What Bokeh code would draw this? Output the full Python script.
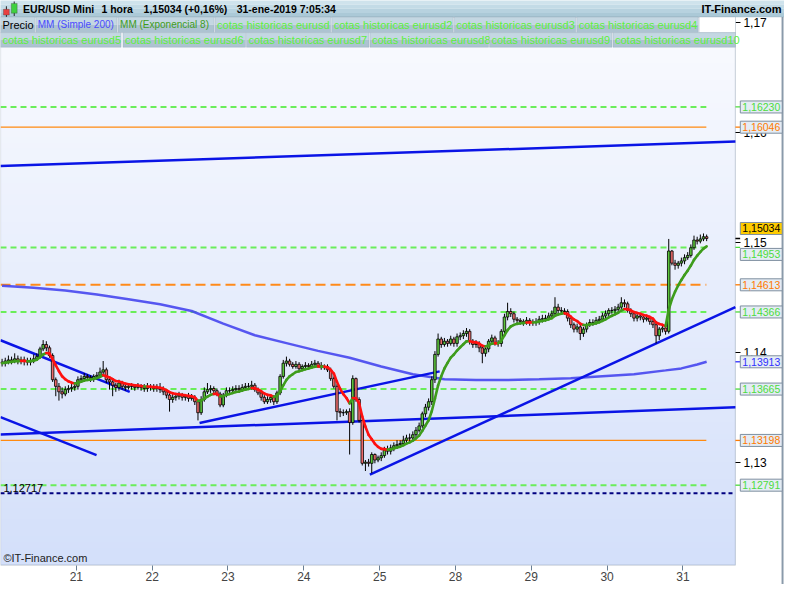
import numpy as np
from bokeh.plotting import figure
from bokeh.models import Range1d, FixedTicker, CustomJSTickFormatter, Label, BoxAnnotation
from bokeh.embed import file_html
from bokeh.resources import INLINE

# ---------------- data ----------------
first_open = 1.1391
closes = [
 1.1390,1.1392,1.1393,1.1392,1.1394,1.1392,1.1393,1.1392,1.1391,1.1392,1.1394,1.1396,1.1403,1.1407,1.1404,1.1397,1.1375,1.1369,1.1364,1.1362,1.1366,1.1367,1.1368,1.1369,
 1.1375,1.1376,1.1378,1.1377,1.1376,1.1378,1.1379,1.1382,1.1384,1.1375,1.1373,1.1370,1.1368,1.1372,1.1369,1.1368,1.1369,1.1369,1.1368,1.1369,1.1368,1.1367,1.1369,1.1368,
 1.1367,1.1368,1.1366,1.1364,1.1361,1.1357,1.1359,1.1360,1.1361,1.1359,1.1360,1.1358,1.1359,1.1355,1.1345,1.1357,1.1364,1.1366,1.1367,1.1365,1.1362,1.1352,1.1361,1.1365,
 1.1365,1.1366,1.1367,1.1366,1.1368,1.1369,1.1369,1.1370,1.1366,1.1363,1.1359,1.1355,1.1357,1.1359,1.1355,1.1363,1.1378,1.1390,1.1392,1.1389,1.1387,1.1389,1.1385,1.1387,
 1.1388,1.1387,1.1389,1.1390,1.1388,1.1386,1.1387,1.1384,1.1376,1.1369,1.1346,1.1345,1.1345,1.1346,1.1336,1.1376,1.1357,1.1338,1.1299,1.1300,1.1299,1.1307,1.1302,1.1304,
 1.1306,1.1311,1.1310,1.1313,1.1315,1.1316,1.1317,1.1320,1.1322,1.1322,1.1325,1.1329,1.1333,1.1344,1.1350,1.1355,1.1375,1.1398,1.1412,1.1407,1.1410,1.1408,1.1412,1.1408,
 1.1414,1.1415,1.1417,1.1419,1.1410,1.1407,1.1408,1.1404,1.1399,1.1403,1.1410,1.1413,1.1409,1.1408,1.1419,1.1432,1.1437,1.1435,1.1430,1.1429,1.1428,1.1427,1.1429,1.1427,
 1.1427,1.1428,1.1430,1.14305,1.1431,1.1433,1.1435,1.1441,1.1438,1.14375,1.1437,1.1431,1.1425,1.1421,1.1423,1.1417,1.1421,1.1425,1.1427,1.1427,1.1429,1.1430,1.1433,1.1435,
 1.1438,1.1438,1.1439,1.1441,1.1445,1.1444,1.1438,1.1435,1.1431,1.1433,1.1432,1.1430,1.1431,1.1428,1.1425,1.1415,1.1421,1.1422,1.1419,1.1492,1.1481,1.1479,1.1481,1.1483,
 1.1486,1.1488,1.1495,1.1502,1.1501,1.1503,1.1505,1.15034]
highs = [
 1.1394,1.1395,1.1397,1.1396,1.1399,1.1397,1.1396,1.1396,1.1395,1.1395,1.1398,1.1399,1.1405,1.1411,1.1410,1.1406,1.1399,1.1377,1.1372,1.1368,1.1369,1.1370,1.1371,1.1372,
 1.1378,1.1379,1.1381,1.1380,1.1379,1.1380,1.1382,1.1386,1.1392,1.1386,1.1377,1.1375,1.1372,1.1375,1.1374,1.1371,1.1372,1.1372,1.1371,1.1372,1.1371,1.1371,1.1372,1.1371,
 1.1371,1.1371,1.1372,1.1369,1.1366,1.1363,1.1362,1.1363,1.1364,1.1363,1.1362,1.1363,1.1362,1.1361,1.1357,1.1360,1.1368,1.1372,1.1370,1.1369,1.1367,1.1364,1.1363,1.1368,
 1.1368,1.1369,1.1370,1.1370,1.1371,1.1372,1.1372,1.1374,1.1372,1.1368,1.1365,1.1361,1.1360,1.1362,1.1361,1.1365,1.1380,1.1393,1.1396,1.1394,1.1391,1.1392,1.1391,1.1389,
 1.1391,1.1390,1.1392,1.1393,1.1392,1.1391,1.1389,1.1389,1.1386,1.1378,1.1371,1.1349,1.1348,1.1348,1.1349,1.1379,1.1377,1.1359,1.1340,1.1302,1.1303,1.1309,1.1308,1.1306,
 1.1309,1.1314,1.1315,1.1316,1.1318,1.1320,1.1320,1.1324,1.1325,1.1326,1.1328,1.1332,1.1336,1.1346,1.1353,1.1358,1.1378,1.1401,1.1417,1.1414,1.1413,1.1412,1.1415,1.1414,
 1.1417,1.1418,1.1420,1.1422,1.1421,1.1412,1.1411,1.1410,1.1406,1.1405,1.1412,1.1416,1.1415,1.1411,1.1421,1.1435,1.1445,1.1440,1.1437,1.1432,1.1431,1.1430,1.1432,1.1431,
 1.1430,1.1431,1.1433,1.1434,1.1434,1.1436,1.1438,1.1450,1.1444,1.1441,1.1440,1.1439,1.1433,1.1427,1.1426,1.1425,1.1423,1.1427,1.1430,1.1430,1.1432,1.1433,1.1436,1.1438,
 1.1440,1.1441,1.1442,1.1444,1.1450,1.1448,1.1446,1.1440,1.1437,1.1436,1.1435,1.1434,1.1434,1.1433,1.1430,1.1428,1.1423,1.1425,1.1425,1.1503,1.1493,1.1484,1.1483,1.1486,
 1.1489,1.1491,1.1498,1.1506,1.1505,1.1507,1.1508,1.1507]
lows = [
 1.1387,1.1387,1.1389,1.1389,1.1390,1.1389,1.1389,1.1388,1.1388,1.1388,1.1390,1.1392,1.1394,1.1401,1.1401,1.1395,1.1373,1.1360,1.1356,1.1358,1.1360,1.1363,1.1364,1.1365,
 1.1366,1.1372,1.1373,1.1374,1.1373,1.1373,1.1375,1.1377,1.1380,1.1372,1.1366,1.1360,1.1364,1.1365,1.1366,1.1365,1.1366,1.1366,1.1365,1.1366,1.1365,1.1364,1.1364,1.1365,
 1.1364,1.1364,1.1363,1.1361,1.1358,1.1346,1.1354,1.1356,1.1357,1.1356,1.1356,1.1355,1.1356,1.1352,1.1338,1.1343,1.1355,1.1362,1.1363,1.1362,1.1360,1.1350,1.1350,1.1359,
 1.1362,1.1363,1.1364,1.1363,1.1364,1.1365,1.1366,1.1366,1.1364,1.1361,1.1356,1.1353,1.1353,1.1354,1.1352,1.1353,1.1361,1.1376,1.1387,1.1387,1.1385,1.1385,1.1383,1.1383,
 1.1385,1.1385,1.1385,1.1387,1.1386,1.1384,1.1384,1.1382,1.1374,1.1367,1.1338,1.1341,1.1342,1.1343,1.1307,1.1334,1.1355,1.1336,1.1297,1.1292,1.1296,1.1290,1.1299,1.1300,
 1.1301,1.1304,1.1307,1.1307,1.1310,1.1312,1.1313,1.1315,1.1317,1.1319,1.1320,1.1322,1.1327,1.1331,1.1341,1.1347,1.1352,1.1372,1.1396,1.1404,1.1405,1.1405,1.1406,1.1405,
 1.1405,1.1411,1.1412,1.1414,1.1407,1.1404,1.1404,1.1400,1.1390,1.1396,1.1400,1.1407,1.1406,1.1405,1.1405,1.1416,1.1429,1.1432,1.1427,1.1426,1.1425,1.1424,1.1425,1.1424,
 1.1424,1.1424,1.1425,1.1427,1.1428,1.1429,1.1430,1.1432,1.1435,1.1435,1.1434,1.1428,1.1422,1.1418,1.1418,1.1411,1.1414,1.1418,1.1423,1.1424,1.1425,1.1427,1.1428,1.1431,
 1.1432,1.1435,1.1435,1.1436,1.1439,1.1441,1.1436,1.1432,1.1428,1.1428,1.1429,1.1427,1.1428,1.1425,1.1422,1.1408,1.1411,1.1418,1.1416,1.1417,1.1479,1.1475,1.1476,1.1478,
 1.1480,1.1484,1.1486,1.1493,1.1498,1.1499,1.1501,1.1501]

day_starts = [24, 48, 72, 96, 120, 144, 168, 192, 216]
day_labels = ["21", "22", "23", "24", "25", "28", "29", "30", "31"]

sma_bars = [0, 10, 20, 30, 40, 50, 60, 70, 80, 90, 100, 110, 120, 130, 140, 150, 160, 170, 180, 190, 200, 210, 215, 220, 223]
sma_vals = [1.14605, 1.14587, 1.14561, 1.14525, 1.14481, 1.14437, 1.14375, 1.14260, 1.14154, 1.14083, 1.14012, 1.13950,
            1.13870, 1.13800, 1.13755, 1.13747, 1.13747, 1.13755, 1.13764, 1.13782, 1.13800, 1.13835, 1.13853, 1.13888, 1.13913]

trend_x0 = [0.0, 0.0, 0.0, 0.0, 63.0, 116.9]
trend_y0 = [1.15693, 1.14109, 1.13410, 1.13251, 1.13357, 1.12888]
trend_x1 = [232.6, 40.9, 30.4, 232.6, 139.0, 232.6]
trend_y1 = [1.15915, 1.13640, 1.13065, 1.13499, 1.13826, 1.14410]

green_levels = [1.16230, 1.14953, 1.14366, 1.13665, 1.12791]
orange_levels = [1.16046, 1.13198]
orange_dash_level = 1.14613
navy_level = 1.12717
last_price = 1.15034
sma_last = 1.13913

legend_row1 = ["Precio", "MM (Simple 200)", "MM (Exponencial 8)", "cotas historicas eurusd",
               "cotas historicas eurusd2", "cotas historicas eurusd3", "cotas historicas eurusd4", ""]
legend_row2 = ["cotas historicas eurusd5", "cotas historicas eurusd6", "cotas historicas eurusd7",
               "cotas historicas eurusd8", "cotas historicas eurusd9", "cotas historicas eurusd10"]

# ---------------- layout ----------------
W, H = 784, 584
KX, KY = W / 800.0, H / 600.0
XA, XB = 0.0, 232.6            # chart area (bars)
XR = 248.14                    # right edge of canvas (bars)
YB, YT = 1.12065, 1.17048      # chart area (price)
YMIN, YMAX = 1.11888, 1.17198  # whole canvas (price)
FONT = "Liberation Sans"

def sx(px):
    return px * KX

def sy(py):
    return (600 - py) * KY

p = figure(width=W, height=H, x_range=Range1d(XA, XR), y_range=Range1d(YMIN, YMAX),
           y_axis_location="right", x_axis_location="below", output_backend="svg",
           toolbar_location=None, title=None,
           min_border_left=0, min_border_right=0, min_border_top=0, min_border_bottom=0)
p.background_fill_color = "white"
p.border_fill_color = "white"
p.outline_line_color = None
p.xgrid.visible = False
p.ygrid.visible = False

# background gradient of the chart area
N = 96
img = np.zeros((N, 1), dtype=np.uint32)
view = img.view(dtype=np.uint8).reshape((N, 1, 4))
top_c = np.array([250, 251, 255]); bot_c = np.array([212, 224, 250])
for r in range(N):
    t = r / (N - 1)
    cc = bot_c + (top_c - bot_c) * t
    view[r, 0, 0:3] = cc.astype(np.uint8)
    view[r, 0, 3] = 255
p.image_rgba(image=[img], x=XA, y=YB, dw=XB - XA, dh=YT - YB, level="image")

# axes placed on the chart-area border
yax = p.yaxis[0]
yax.fixed_location = XB
yax.ticker = FixedTicker(ticks=[1.13, 1.14, 1.15, 1.16, 1.17])
yax.formatter = CustomJSTickFormatter(code="return tick.toFixed(2).replace('.', ',');")
yax.major_label_text_font = FONT
yax.major_label_text_font_size = "12px"
yax.major_label_text_color = "black"
yax.axis_line_color = None
yax.major_tick_line_color = "black"
yax.major_tick_out = 5
yax.major_tick_in = 0
yax.minor_tick_line_color = None
yax.major_label_standoff = 3

xax = p.xaxis[0]
xax.fixed_location = YB
xax.ticker = FixedTicker(ticks=day_starts)
xax.major_label_overrides = {d: l for d, l in zip(day_starts, day_labels)}
xax.major_label_text_font = FONT
xax.major_label_text_font_size = "12px"
xax.axis_line_color = None
xax.major_tick_line_color = "#6a7f94"
xax.major_tick_out = 5
xax.major_tick_in = 0
xax.minor_tick_line_color = None
xax.major_label_standoff = 2

# chart area border
p.add_layout(BoxAnnotation(left=XA, right=XB, bottom=YB, top=YT, fill_alpha=0,
                           line_color="#6a7f94", line_width=1.2, level="underlay"))

def sbox(l, r, t, b, **kw):
    return BoxAnnotation(left=sx(l), right=sx(r), top=sy(t), bottom=sy(b), left_units="screen",
                         right_units="screen", top_units="screen", bottom_units="screen", **kw)

# right edge line of the price panel
p.add_layout(sbox(797, 799, 17, 600, fill_color="#8a9aaa", fill_alpha=1, line_color=None))

# ---------------- horizontal levels ----------------
n = len(closes)
xs = np.arange(n) + 0.5
x_end_lvl = n - 0.6
for lv in green_levels:
    p.segment(x0=[XA], y0=[lv], x1=[x_end_lvl], y1=[lv], line_color="#6aee5a", line_width=2, line_dash="6 4")
for lv in orange_levels:
    p.segment(x0=[XA], y0=[lv], x1=[x_end_lvl], y1=[lv], line_color="#ff8a10", line_width=1.2)
p.segment(x0=[XA], y0=[orange_dash_level], x1=[x_end_lvl], y1=[orange_dash_level],
          line_color="#ff8a1a", line_width=2, line_dash="10 5")
p.segment(x0=[XA], y0=[navy_level], x1=[XB], y1=[navy_level], line_color="#000080", line_width=2, line_dash="4 3")

# ---------------- SMA 200 ----------------
p.line(np.array(sma_bars) + 0.5, sma_vals, line_color="#4646ee", line_width=2.5, line_alpha=0.9)

# ---------------- trend lines ----------------
p.segment(x0=trend_x0, y0=trend_y0, x1=trend_x1, y1=trend_y1, line_color="#0a14e6", line_width=2.5)

# ---------------- candles ----------------
opens = [first_open] + closes[:-1]
o = np.array(opens); c = np.array(closes)
up = c >= o
p.segment(x0=xs, y0=highs, x1=xs, y1=lows, line_color="black", line_width=1)
p.vbar(x=xs, width=0.8, top=np.maximum(o, c), bottom=np.minimum(o, c),
       fill_color=["#5cc43c" if u else "#ec6a6a" for u in up], line_color="black", line_width=0.8)

# ---------------- EMA 8 ----------------
alpha = 2.0 / 9.0
ema = [closes[0]]
for v in closes[1:]:
    ema.append(ema[-1] + alpha * (v - ema[-1]))
ema = np.array(ema)
ecol = ["#ff1010" if ema[i + 1] < ema[i] else "#3e9c1c" for i in range(n - 1)]
p.segment(x0=xs[:-1], y0=ema[:-1], x1=xs[1:], y1=ema[1:], line_color=ecol, line_width=2.6, line_cap="round")

# ---------------- texts inside the chart ----------------
p.add_layout(Label(x=sx(3), y=navy_level, x_units="screen", text="1,12717", y_offset=1,
                   text_baseline="bottom", text_font=FONT, text_font_size="11px", text_color="black"))
p.add_layout(Label(x=sx(3), y=sy(579), x_units="screen", y_units="screen", text="©IT-Finance.com",
                   text_baseline="bottom", text_font=FONT, text_font_size="11px", text_color="#222222"))

# ---------------- right price tags ----------------
def fmt(v):
    return ("%.5f" % v).replace(".", ",")

tags = [(green_levels[0], "#4cdc3c", "#e4ecf4", 0), (orange_levels[0], "#ff7a00", "#e4ecf4", 0),
        (last_price, "black", "#ffcc00", 10), (green_levels[1], "#4cdc3c", "#e4ecf4", -7),
        (orange_dash_level, "#ff7a00", "#e4ecf4", 0), (green_levels[2], "#4cdc3c", "#e4ecf4", 0),
        (sma_last, "#3030ff", "#e4ecf4", 0), (green_levels[3], "#4cdc3c", "#e4ecf4", 0),
        (orange_levels[1], "#ff7a00", "#e4ecf4", 0), (green_levels[4], "#4cdc3c", "#e4ecf4", 0)]
for v, tc, fc, off in tags:
    p.add_layout(BoxAnnotation(left=XB, right=XB + 1.5, top=v + 0.00006, bottom=v - 0.00006,
                               fill_color=tc, fill_alpha=1, line_color=None))
    p.add_layout(Label(x=XB, y=v, x_offset=sx(5), y_offset=off, text=fmt(v), text_baseline="middle",
                       text_align="left", text_font=FONT, text_font_size="10.5px", text_color=tc,
                       background_fill_color=fc, background_fill_alpha=1,
                       border_line_color="#7f8fa0", border_line_width=1, padding=2))

# ---------------- header (gradient bar) ----------------
hdr_cols = ["#cfe3ec", "#c3dbe6", "#b7d2df", "#abc9d7"]
for k, col in enumerate(hdr_cols):
    p.add_layout(sbox(-2, 802, -2 if k == 0 else 17 * k / 4.0, 17 * (k + 1) / 4.0,
                      fill_color=col, fill_alpha=1, line_color=None))
p.add_layout(sbox(-2, 802, -2, 17, fill_alpha=0, line_color="#8aa0b0", line_width=1))
p.add_layout(sbox(5.5, 6.5, 6, 17, fill_color="#222222", fill_alpha=1, line_color=None))
p.add_layout(sbox(3, 9, 9, 15, fill_color="#e84040", fill_alpha=1, line_color="#333333", line_width=1))
p.add_layout(sbox(13.5, 14.5, 1, 16, fill_color="#222222", fill_alpha=1, line_color=None))
p.add_layout(sbox(11, 17, 3, 13, fill_color="#40d040", fill_alpha=1, line_color="#333333", line_width=1))
for tx, t in [(23, "EUR/USD Mini"), (103, "1 hora"), (146, "1,15034 (+0,16%)"), (241, "31-ene-2019 7:05:34")]:
    p.add_layout(Label(x=sx(tx), y=sy(8.5), x_units="screen", y_units="screen", text=t, text_baseline="middle",
                       text_font=FONT, text_font_size="10.5px", text_font_style="bold", text_color="black"))
p.add_layout(Label(x=sx(797), y=sy(8.5), x_units="screen", y_units="screen", text="IT-Finance.com",
                   text_baseline="middle", text_align="right",
                   text_font=FONT, text_font_size="11px", text_font_style="bold", text_color="black"))

# ---------------- legend rows ----------------
row1_x = [(0, 35), (36, 119), (120, 218), (219, 337), (338, 462), (463, 587), (588, 712), (713, 750)]
row2_x = [(0, 123), (125, 250), (251, 376), (377, 498), (499, 624), (625, 750)]
row1_col = ["black", "#4a4aff", "#3e9c1c"] + ["#5cf03c"] * 4 + ["black"]
row1_size = ["11px", "10px", "10px"] + ["11px"] * 5

def legend_row(xs_, texts, cols, sizes, top, bot):
    mid = (top + bot) / 2.0
    for (l, r), t, col, fs in zip(xs_, texts, cols, sizes):
        if t == "":
            p.add_layout(sbox(l, r, top, bot, fill_color="white", fill_alpha=1, line_color="#8ca0b0", line_width=1))
            continue
        p.add_layout(sbox(l, r, top, mid, fill_color="#c4d7e2", fill_alpha=1, line_color=None))
        p.add_layout(sbox(l, r, mid, bot, fill_color="#adc3d1", fill_alpha=1, line_color=None))
        p.add_layout(sbox(l, r, top, bot, fill_alpha=0, line_color="#8ca0b0", line_width=1))
        p.add_layout(Label(x=sx(l + 2), y=sy(mid), x_units="screen", y_units="screen",
                           text=t, text_baseline="middle", text_font=FONT, text_font_size=fs,
                           text_color=col))

legend_row(row1_x, legend_row1, row1_col, row1_size, 17, 33)
legend_row(row2_x, legend_row2, ["#5cf03c"] * 6, ["11px"] * 6, 33, 48)

open("out.html", "w").write(file_html(p, INLINE))
